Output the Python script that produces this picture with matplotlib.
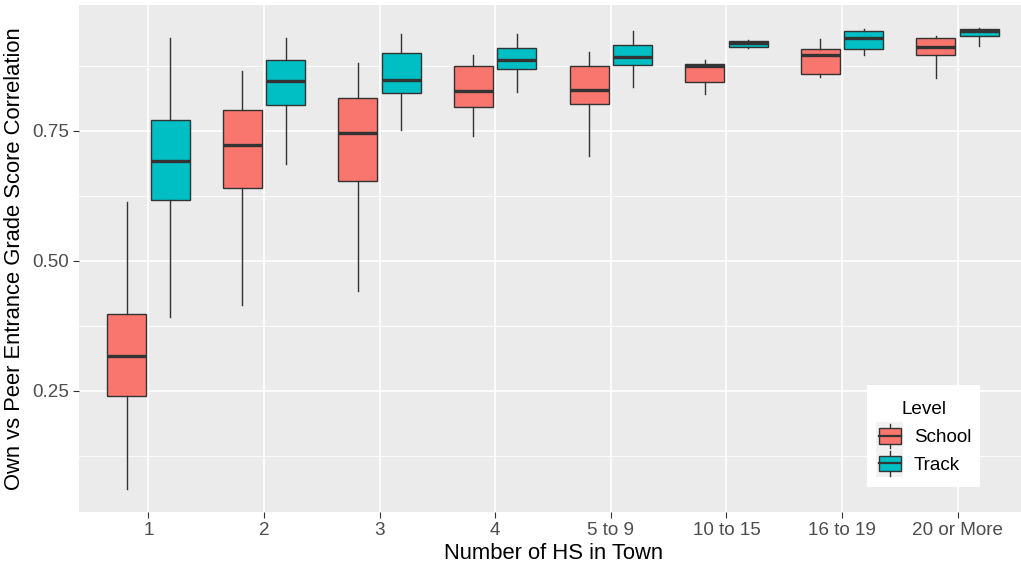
import matplotlib
matplotlib.use("Agg")
import matplotlib.pyplot as plt
from matplotlib.patches import Patch, Rectangle
from matplotlib.lines import Line2D
from matplotlib.legend_handler import HandlerBase
from matplotlib.offsetbox import VPacker

plt.rcParams['font.family'] = ['Liberation Sans', 'DejaVu Sans']

categories = ["1", "2", "3", "4", "5 to 9", "10 to 15", "16 to 19", "20 or More"]
levels = ["School", "Track"]

# five-number summaries: whisker low, q1, median, q3, whisker high
school_wlo = [0.062, 0.415, 0.442, 0.740, 0.701, 0.821, 0.853, 0.851]
school_q1 = [0.240, 0.640, 0.654, 0.795, 0.801, 0.844, 0.860, 0.895]
school_med = [0.317, 0.723, 0.745, 0.826, 0.828, 0.874, 0.895, 0.912]
school_q3 = [0.397, 0.791, 0.814, 0.874, 0.874, 0.878, 0.908, 0.928]
school_whi = [0.614, 0.866, 0.880, 0.896, 0.901, 0.886, 0.927, 0.933]

track_wlo = [0.392, 0.687, 0.751, 0.824, 0.835, 0.910, 0.896, 0.914]
track_q1 = [0.617, 0.800, 0.823, 0.868, 0.876, 0.912, 0.908, 0.932]
track_med = [0.692, 0.846, 0.848, 0.887, 0.892, 0.918, 0.928, 0.942]
track_q3 = [0.771, 0.886, 0.899, 0.910, 0.916, 0.922, 0.942, 0.945]
track_whi = [0.928, 0.928, 0.937, 0.937, 0.942, 0.924, 0.946, 0.948]

colors = {"School": "#F8766D", "Track": "#00BFC4"}
edge = "#333333"

W, H = 1021, 566
fig = plt.figure(figsize=(W / 100, H / 100), dpi=100)
px_l, px_r, px_t, px_b = 79, 1027, 5, 512
ax = fig.add_axes([px_l / W, 1 - px_b / H, (px_r - px_l) / W, (px_b - px_t) / H])
ax.set_facecolor("#EBEBEB")

def stats(wlo, q1, med, q3, whi):
    return [dict(whislo=a, q1=b, med=c, q3=d, whishi=e, fliers=[])
            for a, b, c, d, e in zip(wlo, q1, med, q3, whi)]

offset = 0.188
width = 0.337
series = [
    ("School", stats(school_wlo, school_q1, school_med, school_q3, school_whi), -offset),
    ("Track", stats(track_wlo, track_q1, track_med, track_q3, track_whi), offset),
]
for name, st, off in series:
    pos = [i + 1 + off for i in range(len(categories))]
    ax.bxp(st, positions=pos, widths=width, patch_artist=True, showcaps=False,
           boxprops=dict(facecolor=colors[name], edgecolor=edge, linewidth=1.0),
           medianprops=dict(color=edge, linewidth=2.4, solid_capstyle='butt'),
           whiskerprops=dict(color=edge, linewidth=1.0),
           zorder=3, manage_ticks=False)

ax.set_xlim(0.4, 8.6)
ax.set_ylim(0.017, 0.992)
ax.set_xticks(range(1, len(categories) + 1))
ax.set_xticklabels(categories)
ax.set_yticks([0.25, 0.50, 0.75])
ax.set_yticklabels(["0.25", "0.50", "0.75"])
ax.set_yticks([0.125, 0.375, 0.625, 0.875], minor=True)
ax.grid(which='major', color='white', linewidth=1.2, zorder=0)
ax.grid(which='minor', axis='y', color='white', linewidth=0.6, zorder=0)
ax.set_axisbelow(True)
for s in ax.spines.values():
    s.set_visible(False)
ax.tick_params(which='major', colors='#333333', length=4, width=0.8, labelsize=13.6,
               labelcolor='#4D4D4D', pad=3)
ax.tick_params(which='minor', length=0)
ax.set_xlabel("Number of HS in Town", fontsize=15.8, color='black', labelpad=3)
ax.set_ylabel("Own vs Peer Entrance Grade Score Correlation", fontsize=15.8, color='black', labelpad=5)


class BoxKey(HandlerBase):
    def create_artists(self, legend, orig, xd, yd, width, height, fontsize, trans):
        fc = orig.get_facecolor()
        x0, y0 = -xd, -yd
        bg = Rectangle((x0, y0), width, height, facecolor='#F2F2F2', edgecolor='none', transform=trans)
        cx = x0 + width / 2
        wl = Line2D([cx, cx], [y0 + height * 0.06, y0 + height * 0.94], color=edge, lw=1.0, transform=trans)
        bx = Rectangle((x0 + width * 0.1, y0 + height * 0.22), width * 0.8, height * 0.56,
                       facecolor=fc, edgecolor=edge, lw=1.0, transform=trans)
        md = Line2D([x0 + width * 0.1, x0 + width * 0.9], [y0 + height / 2] * 2, color=edge, lw=1.6, transform=trans)
        return [bg, wl, bx, md]

handles = [Patch(facecolor=colors[l]) for l in levels]
leg = ax.legend(handles, levels, title="Level", loc='upper left',
                bbox_to_anchor=((867 - px_l) / (px_r - px_l), 1 - (385 - px_t) / (px_b - px_t)),
                handler_map={Patch: BoxKey()}, fontsize=13.6, title_fontsize=13.6,
                frameon=True, fancybox=False, edgecolor='white', framealpha=1,
                handlelength=1.42, handleheight=1.86, handletextpad=0.55,
                borderpad=0.5, labelspacing=0.0, borderaxespad=0)
leg.get_frame().set_linewidth(0)
leg.set_zorder(5)
# extra room around the legend title (ggplot-style spacing)
title_wrap = VPacker(pad=5.0, sep=0, align='center', children=[leg._legend_title_box])
leg._legend_box._children[0] = title_wrap
leg._legend_box.sep = -2.2

fig.savefig("out.png", dpi=100, facecolor='white')
